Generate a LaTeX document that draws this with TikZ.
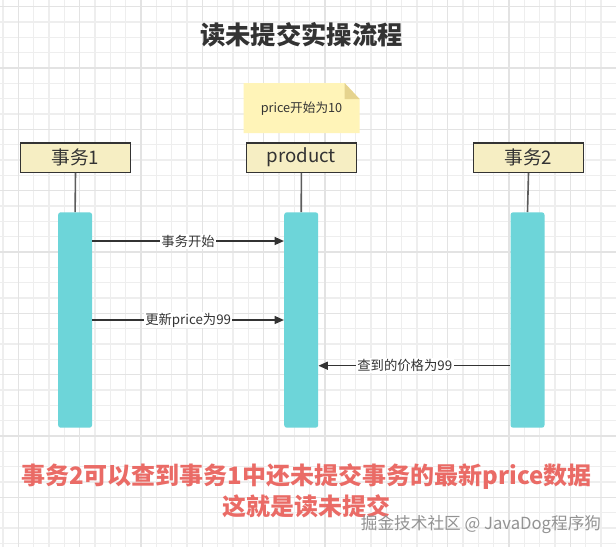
\documentclass[tikz,border=0pt]{standalone}
\usepackage{fontspec}
\setmainfont{Noto Sans CJK SC}
\usetikzlibrary{arrows.meta,positioning}
\definecolor{gridmin}{HTML}{EEEEEE}
\definecolor{gridmaj}{HTML}{E3E3E3}
\definecolor{headfill}{HTML}{F6EEC3}
\definecolor{notefill}{HTML}{FFF4B8}
\definecolor{notefold}{HTML}{E5D38E}
\definecolor{barfill}{HTML}{6DD5D9}
\definecolor{inkgray}{HTML}{333333}
\definecolor{alertred}{HTML}{EA6B66}

\begin{document}
\begin{tikzpicture}[>={Triangle[length=7pt,width=6pt]}, x=0.75pt, y=-0.75pt,
                    every node/.style={font=\fontsize{10}{12}\selectfont, text=inkgray},
                    head/.style={draw=inkgray, line width=1pt, fill=headfill,
                                 minimum width=82.5pt, minimum height=22pt,
                                 font=\fontsize{14}{16}\selectfont},
                    bar/.style={fill=barfill, rounded corners=2pt,
                                minimum width=25.5pt, minimum height=161.6pt},
                    life/.style={draw=inkgray!80, line width=1.2pt},
                    msg/.style={draw=inkgray, line width=1.1pt},
                    lbl/.style={fill=white, inner sep=1pt}]
  \useasboundingbox (0,0) rectangle (616,547);
  \fill[white] (0,0) rectangle (616,547);

  % background grid (minor 15.3px, major every 4th)
  \foreach \k in {0,...,40}
    \draw[gridmin, line width=1pt] ({3+15.333*\k},0) -- ({3+15.333*\k},547);
  \foreach \k in {0,...,35}
    \draw[gridmin, line width=1pt] (0,{6.7+15.333*\k}) -- (616,{6.7+15.333*\k});
  \foreach \k in {0,...,9}
    \draw[gridmaj, line width=1.1pt] ({18.3+61.333*\k},0) -- ({18.3+61.333*\k},547);
  \foreach \k in {0,...,8}
    \draw[gridmaj, line width=1.1pt] (0,{6.7+61.333*\k}) -- (616,{6.7+61.333*\k});

  % title
  \node[font=\fontsize{19}{22}\selectfont\bfseries] (ttl) at (301.6,35) {读未提交实操流程};

  % sticky note
  \fill[notefill] (243.6,83) -- (344.6,83) -- (359.5,99) -- (359.5,133) -- (243.6,133) -- cycle;
  \fill[notefold] (344.6,83) -- (344.6,99) -- (359.5,99) -- cycle;
  \node[font=\fontsize{9.5}{11}\selectfont] (nt) at (301.5,109) {price开始为10};

  % lifeline heads
  \node[head] (t1) at (75.5,157.5) {事务1};
  \node[head] (pd) at (301.4,157.5) {product};
  \node[head] (t2) at (528.5,157.5) {事务2};

  % activation bars
  \node[bar] (b1) at (75.1,320) {};
  \node[bar] (b2) at (301.2,320) {};
  \node[bar] (b3) at (527.5,320) {};

  \draw[life] (t1.south) -- (b1.north);
  \draw[life] (pd.south) -- (b2.north);
  \draw[life] (t2.south) -- (b3.north);

  % messages
  \coordinate (m1) at (0,241);
  \coordinate (m2) at (0,320);
  \coordinate (m3) at (0,365.7);
  \draw[msg, ->] (b1.east |- m1) -- node[lbl] {事务开始} (b2.west |- m1);
  \draw[msg, ->] (b1.east |- m2) -- node[lbl] {更新price为99} (b2.west |- m2);
  \draw[msg, ->] (b3.west |- m3) -- node[lbl, pos=0.55] {查到的价格为99} (b2.east |- m3);

  % conclusion
  \node[font=\fontsize{18}{23.25}\selectfont\bfseries, text=alertred, align=center] (res)
       at (306.5,490.5) {事务2可以查到事务1中还未提交事务的最新price数据\\这就是读未提交};
  \node[font=\fontsize{12.5}{14}\selectfont, text=gray!85] (wm) at (481,524)
       {掘金技术社区 @ JavaDog程序狗};
\end{tikzpicture}
\end{document}
